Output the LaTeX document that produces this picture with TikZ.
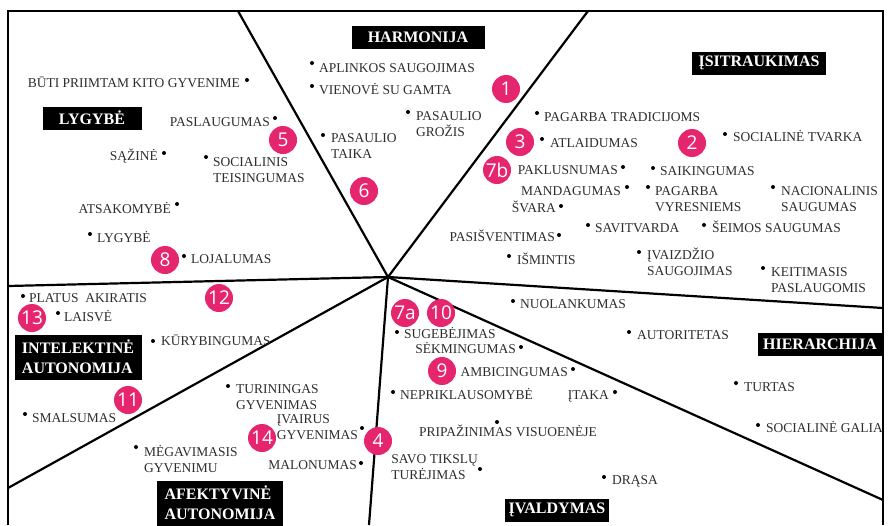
\documentclass[tikz,border=0pt]{standalone}
\usepackage{fontspec}
\setmainfont{Liberation Serif}
\newfontfamily\numfont{Open Sans}
\usetikzlibrary{positioning}
\definecolor{markpink}{RGB}{229,38,111}
\definecolor{valgray}{RGB}{45,45,45}

\begin{document}
\begin{tikzpicture}[x=1pt,y=-1pt,every text node part/.style={align=left},
    pt/.style={circle,fill=black,inner sep=0pt,minimum size=4pt},
    val/.style={inner sep=0pt,text=valgray,font=\fontsize{13.5}{16}\selectfont},
    cat/.style={fill=black,text=white,inner xsep=4pt,inner ysep=2pt,align=center,
      minimum height=23pt,font=\bfseries\fontsize{16}{20}\selectfont},
    num/.style={circle,fill=markpink,text=white,inner sep=0pt,minimum size=28pt,
      font=\numfont\fontsize{19}{19}\selectfont},
    sector/.style={line width=2.2pt}]
  \useasboundingbox (0,0) rectangle (890,525);

  % frame and sectors
  \draw[line width=2pt] (8,525) -- (8,11) -- (883,11) -- (883,525);
  \coordinate (ctr) at (388,277);
  \coordinate (eTL) at (238,11);
  \coordinate (eTR) at (588,11);
  \coordinate (eR) at (883,308);
  \coordinate (eBR) at (883,500);
  \coordinate (eB) at (369,525);
  \coordinate (eBL) at (8,488);
  \coordinate (eL) at (8,286);
  \draw[sector] (ctr) -- (eTL);
  \draw[sector] (ctr) -- (eTR);
  \draw[sector] (ctr) -- (eR);
  \draw[sector] (ctr) -- (eBR);
  \draw[sector] (ctr) -- (eB);
  \draw[sector] (ctr) -- (eBL);
  \draw[sector] (ctr) -- (eL);

  % categories
  \node[cat,minimum width=133pt] (harm) at (418,37) {HARMONIJA};
  \node[cat,minimum width=134pt] (isitr) at (759,63) {ĮSITRAUKIMAS};
  \node[cat,minimum width=99pt] (lyg) at (92,118) {LYGYBĖ};
  \node[cat,minimum width=127pt,minimum height=45pt] (intel) at (78,357) {INTELEKTINĖ\\AUTONOMIJA};
  \node[cat,minimum width=126pt,minimum height=45pt] (afekt) at (220,503) {AFEKTYVINĖ\\AUTONOMIJA};
  \node[cat,minimum width=104pt] (ivald) at (557,510) {ĮVALDYMAS};
  \node[cat,minimum width=124pt] (hier) at (820,344) {HIERARCHIJA};

  % values, dot on the left
  \node[pt] (dsoctei) at (206,157) {};
  \node[val,anchor=base west] (soctei) at (213,182) {SOCIALINIS\\TEISINGUMAS};
  \node[pt] (daplink) at (312,63) {};
  \node[val,anchor=base west] (aplink) at (319,72) {APLINKOS SAUGOJIMAS};
  \node[pt] (dvienove) at (312,86) {};
  \node[val,anchor=base west] (vienove) at (319,94) {VIENOVĖ SU GAMTA};
  \node[pt] (dgrozis) at (408,112) {};
  \node[val,anchor=base west] (grozis) at (416,136) {PASAULIO\\GROŽIS};
  \node[pt] (dtaika) at (323,135) {};
  \node[val,anchor=base west] (taika) at (331,158) {PASAULIO\\TAIKA};
  \node[pt] (dtradic) at (537,113) {};
  \node[val,anchor=base west] (tradic) at (544,121) {PAGARBA TRADICIJOMS};
  \node[pt] (datlaid) at (542,139) {};
  \node[val,anchor=base west] (atlaid) at (550,147) {ATLAIDUMAS};
  \node[pt] (dsaiking) at (653,168) {};
  \node[val,anchor=base west] (saiking) at (660,175) {SAIKINGUMAS};
  \node[pt] (dvyresn) at (648,187) {};
  \node[val,anchor=base west] (vyresn) at (655,211) {PAGARBA\\VYRESNIEMS};
  \node[pt] (dsavitv) at (588,225) {};
  \node[val,anchor=base west] (savitv) at (595,232) {SAVITVARDA};
  \node[pt] (dseimos) at (704,225) {};
  \node[val,anchor=base west] (seimos) at (712,232) {ŠEIMOS SAUGUMAS};
  \node[pt] (dismint) at (509,256) {};
  \node[val,anchor=base west] (ismint) at (517,264) {IŠMINTIS};
  \node[pt] (divaizd) at (639,252) {};
  \node[val,anchor=base west] (ivaizd) at (647,275) {ĮVAIZDŽIO\\SAUGOJIMAS};
  \node[pt] (dsoctv) at (725,134) {};
  \node[val,anchor=base west] (soctv) at (733,141) {SOCIALINĖ TVARKA};
  \node[pt] (dnacion) at (773,187) {};
  \node[val,anchor=base west] (nacion) at (781,211) {NACIONALINIS\\SAUGUMAS};
  \node[pt] (dkeitim) at (763,268) {};
  \node[val,anchor=base west] (keitim) at (771,292) {KEITIMASIS\\PASLAUGOMIS};
  \node[pt] (dautor) at (629,332) {};
  \node[val,anchor=base west] (autor) at (637,339) {AUTORITETAS};
  \node[pt] (dnuolank) at (513,301) {};
  \node[val,anchor=base west] (nuolank) at (520,308) {NUOLANKUMAS};
  \node[pt] (dsugeb) at (397,332) {};
  \node[val,anchor=base west] (sugeb) at (404,338) {SUGEBĖJIMAS};
  \node[pt] (dneprikl) at (393,392) {};
  \node[val,anchor=base west] (neprikl) at (400,399) {NEPRIKLAUSOMYBĖ};
  \node[pt] (dturtas) at (736,383) {};
  \node[val,anchor=base west] (turtas) at (744,391) {TURTAS};
  \node[pt] (dgalia) at (758,425) {};
  \node[val,anchor=base west] (galia) at (766,432) {SOCIALINĖ GALIA};
  \node[pt] (ddrasa) at (604,477) {};
  \node[val,anchor=base west] (drasa) at (612,484) {DRĄSA};
  \node[pt] (dturin) at (228,386) {};
  \node[val,anchor=base west] (turin) at (236,409) {TURININGAS\\GYVENIMAS};
  \node[pt] (dmegav) at (136,447) {};
  \node[val,anchor=base west] (megav) at (144,472) {MĖGAVIMASIS\\GYVENIMU};
  \node[pt] (dkuryb) at (153,341) {};
  \node[val,anchor=base west] (kuryb) at (161,345) {KŪRYBINGUMAS};
  \node[pt] (dlygybe) at (90,234) {};
  \node[val,anchor=base west] (lygybe) at (97,242) {LYGYBĖ};
  \node[pt] (dlojal) at (184,256) {};
  \node[val,anchor=base west] (lojal) at (191,263) {LOJALUMAS};
  \node[pt] (dplatus) at (23,296) {};
  \node[val,anchor=base west] (platus) at (29,302) {PLATUS\ \ AKIRATIS};
  \node[pt] (dlaisve) at (58,313) {};
  \node[val,anchor=base west] (laisve) at (64,321) {LAISVĖ};
  \node[pt] (dsmals) at (25,414) {};
  \node[val,anchor=base west] (smals) at (32,422) {SMALSUMAS};

  % values, dot on the right
  \node[pt] (dbuti) at (247,80) {};
  \node[val,anchor=base east] (buti) at (240,87) {BŪTI PRIIMTAM KITO GYVENIME};
  \node[pt] (dpaslaug) at (275,118) {};
  \node[val,anchor=base east] (paslaug) at (270,126) {PASLAUGUMAS};
  \node[pt] (dsazine) at (164,153) {};
  \node[val,anchor=base east] (sazine) at (158,160) {SĄŽINĖ};
  \node[pt] (dpaklus) at (623,167) {};
  \node[val,anchor=base east] (paklus) at (618,174) {PAKLUSNUMAS};
  \node[pt] (dmandag) at (627,187) {};
  \node[val,anchor=base east] (mandag) at (621,195) {MANDAGUMAS};
  \node[pt] (dsvara) at (561,206) {};
  \node[val,anchor=base east] (svara) at (556,212) {ŠVARA};
  \node[pt] (dpasisv) at (559,235) {};
  \node[val,anchor=base east] (pasisv) at (555,241) {PASIŠVENTIMAS};
  \node[pt] (datsak) at (177,204) {};
  \node[val,anchor=base east] (atsak) at (171,213) {ATSAKOMYBĖ};
  \node[pt] (dsekming) at (521,347) {};
  \node[val,anchor=base east] (sekming) at (516,353) {SĖKMINGUMAS};
  \node[pt] (dambic) at (573,369) {};
  \node[val,anchor=base east] (ambic) at (568,376) {AMBICINGUMAS};
  \node[pt] (ditaka) at (615,392) {};
  \node[val,anchor=base east] (itaka) at (609,399) {ĮTAKA};
  \node[pt] (dtiksl) at (480,469) {};
  \node[val,anchor=base east,align=right] (tiksl) at (478,479) {SAVO TIKSLŲ\\TURĖJIMAS};
  \node[pt] (divairus) at (362,428) {};
  \node[val,anchor=base east,align=right] (ivairus) at (358,439) {ĮVAIRUS\\GYVENIMAS};
  \node[pt] (dmalon) at (361,463) {};
  \node[val,anchor=base east] (malon) at (357,469) {MALONUMAS};
  \node[pt] (dpripaz) at (497,422) {};
  \node[val,anchor=base] (pripaz) at (508,436) {PRIPAŽINIMAS VISUOENĖJE};

  % markers
  \node[num] (m1) at (506,89) {1};
  \node[num] (m2) at (692,143) {2};
  \node[num] (m3) at (520,142) {3};
  \node[num] (m4) at (378,441) {4};
  \node[num] (m5) at (283,140) {5};
  \node[num] (m6) at (364,191) {6};
  \node[num] (m7a) at (405,313) {7a};
  \node[num] (m7b) at (497,170) {7b};
  \node[num] (m8) at (165,260) {8};
  \node[num] (m9) at (442,371) {9};
  \node[num] (m10) at (441,313) {10};
  \node[num] (m11) at (128,400) {11};
  \node[num] (m12) at (219,298) {12};
  \node[num] (m13) at (32,318) {13};
  \node[num] (m14) at (262,438) {14};
\end{tikzpicture}
\end{document}
